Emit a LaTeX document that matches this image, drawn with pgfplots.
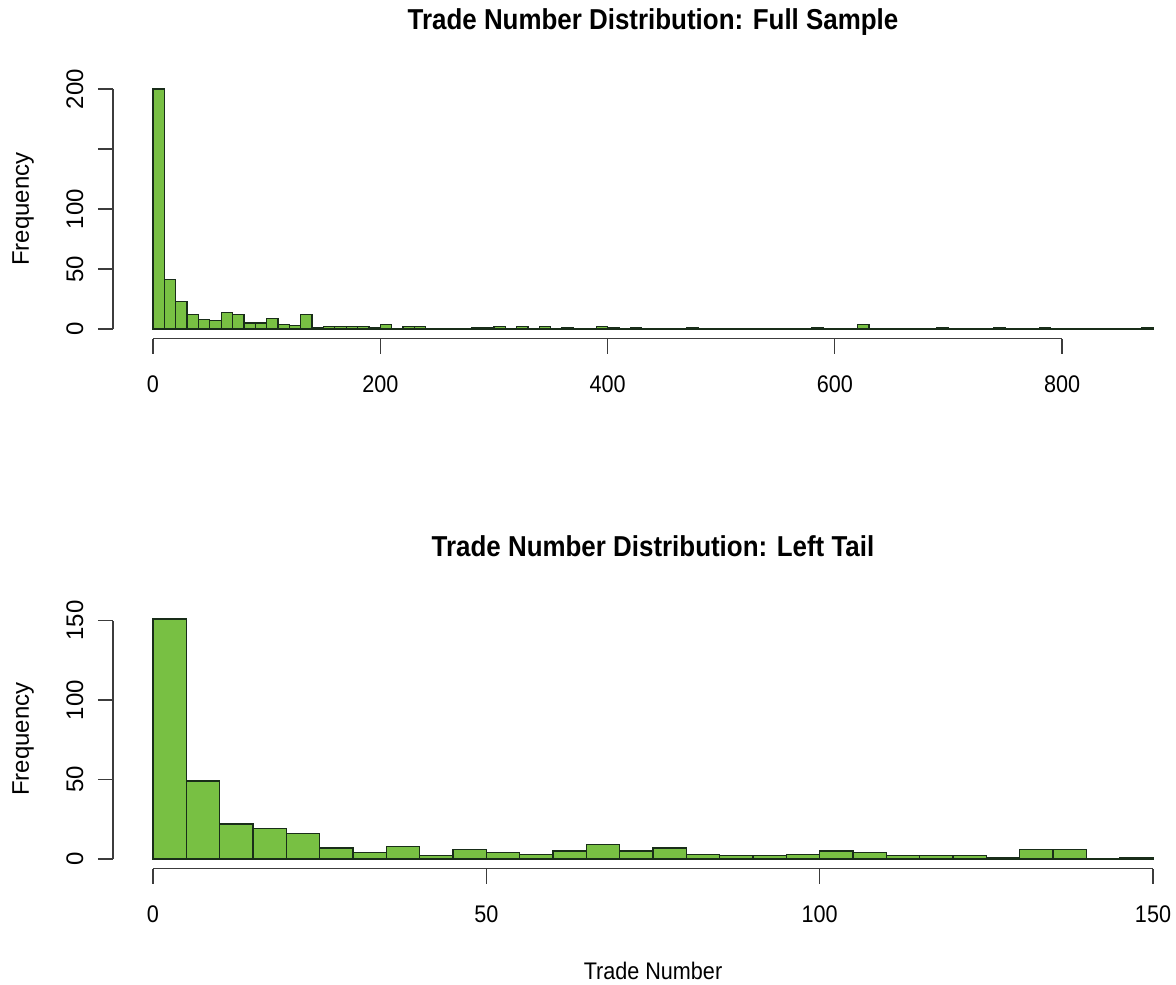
\documentclass[border=0pt]{standalone}
\usepackage{fontspec}
\setmainfont{Liberation Sans}
\newfontfamily\hfont[FakeStretch=0.9]{Liberation Sans}
\usepackage{pgfplots}
\pgfplotsset{compat=1.18}
\definecolor{barfill}{RGB}{120,192,67}
\definecolor{baredge}{RGB}{25,45,25}
\definecolor{axgray}{RGB}{60,60,60}
\pgfplotsset{
  rstyle/.style={
    axis lines=left,
    axis line style={draw=none},
    tick align=outside,
    major tick length=7.5pt,
    tick style={color=axgray, line width=0.6pt},
    xticklabel style={font=\hfont\fontsize{12}{14}\selectfont, anchor=north},
    yticklabel style={font=\fontsize{12}{14}\selectfont, rotate=90, anchor=south},
    xticklabel shift=7.3pt,
    yticklabel shift=3.8pt,
    every axis y label/.style={at={(axis description cs:-0.0833,0.5)}, rotate=90, anchor=center, font=\fontsize{12}{14}\selectfont},
    every axis x label/.style={at={(axis description cs:0.5,-0.428)}, anchor=base, font=\hfont\fontsize{12}{14}\selectfont},
    title style={anchor=base, yshift=0pt, font=\hfont\bfseries\fontsize{14.4}{17}\selectfont},
    clip=false,
  },
}
\begin{document}
\begin{tikzpicture}
\path[use as bounding box] (-56.5pt,-322.7pt) rectangle (531.5pt,169.3pt);
% ---------- Top panel ----------
\begin{axis}[rstyle,
  at={(0pt,0pt)}, anchor=south west,
  x=0.568182pt, y=0.6pt,
  xmin=-35.2, xmax=915.2, ymin=-8, ymax=208,
  xtick={0,200,400,600,800}, xticklabels={0,200,400,600,800},
  ytick={0,50,100,150,200}, yticklabels={0,50,100,{},200},
  ylabel={Frequency},
  title={Trade Number Distribution: Full Sample},
  title style={at={(axis description cs:0.5,1.1443)}},
]
\addplot[ybar interval, fill=barfill, draw=baredge, line width=0.65pt] coordinates {
(0,200) (10,41) (20,23) (30,12) (40,8) (50,7) (60,14) (70,12) (80,5) (90,5)
(100,9) (110,4) (120,3) (130,12) (140,1) (150,2) (160,2) (170,2) (180,2) (190,1)
(200,4) (210,0) (220,2) (230,2) (240,0) (250,0) (260,0) (270,0) (280,1) (290,1)
(300,2) (310,0) (320,2) (330,0) (340,2) (350,0) (360,1) (370,0) (380,0) (390,2)
(400,1) (410,0) (420,1) (430,0) (440,0) (450,0) (460,0) (470,1) (480,0) (490,0)
(500,0) (510,0) (520,0) (530,0) (540,0) (550,0) (560,0) (570,0) (580,1) (590,0)
(600,0) (610,0) (620,4) (630,0) (640,0) (650,0) (660,0) (670,0) (680,0) (690,1)
(700,0) (710,0) (720,0) (730,0) (740,1) (750,0) (760,0) (770,0) (780,1) (790,0)
(800,0) (810,0) (820,0) (830,0) (840,0) (850,0) (860,0) (870,1) (880,1)
};
\draw[axgray, line width=0.6pt] (axis cs:0,-8) -- (axis cs:800,-8);
\draw[axgray, line width=0.6pt] (axis cs:-35.2,0) -- (axis cs:-35.2,200);
\end{axis}
% ---------- Bottom panel ----------
\begin{axis}[rstyle,
  at={(0pt,-265pt)}, anchor=south west,
  x=3.333333pt, y=0.7947pt,
  xmin=-6, xmax=156, ymin=-6.04, ymax=157.04,
  xtick={0,50,100,150}, xticklabels={0,50,100,150},
  ytick={0,50,100,150}, yticklabels={0,50,100,150},
  ylabel={Frequency},
  xlabel={Trade Number},
  title={Trade Number Distribution: Left Tail},
  title style={at={(axis description cs:0.5,1.157)}},
]
\addplot[ybar interval, fill=barfill, draw=baredge, line width=0.65pt] coordinates {
(0,151) (5,49) (10,22) (15,19) (20,16) (25,7) (30,4) (35,8) (40,2) (45,6)
(50,4) (55,3) (60,5) (65,9) (70,5) (75,7) (80,3) (85,2) (90,2) (95,3)
(100,5) (105,4) (110,2) (115,2) (120,2) (125,1) (130,6) (135,6) (140,0) (145,1) (150,1)
};
\draw[axgray, line width=0.6pt] (axis cs:0,-6.04) -- (axis cs:150,-6.04);
\draw[axgray, line width=0.6pt] (axis cs:-6,0) -- (axis cs:-6,150);
\end{axis}
\end{tikzpicture}
\end{document}
